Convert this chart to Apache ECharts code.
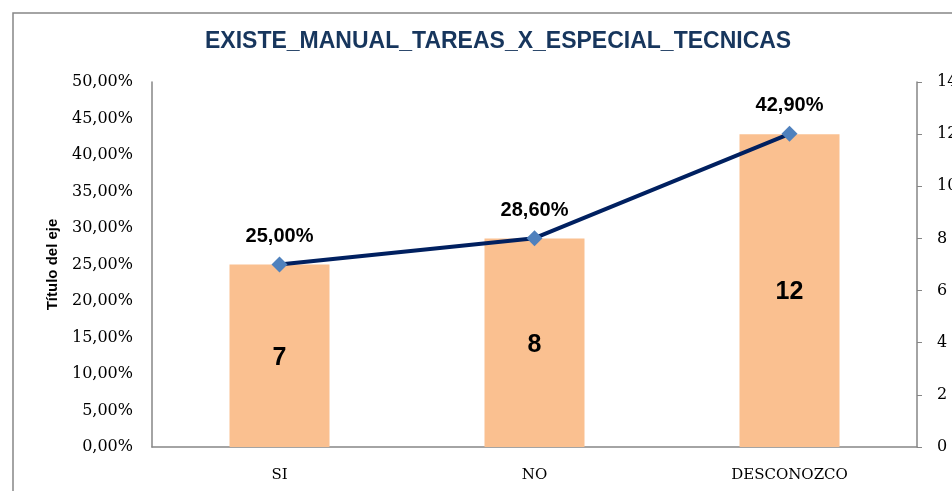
<!DOCTYPE html>
<html>
<head>
<meta charset="utf-8">
<script src="https://cdn.jsdelivr.net/npm/echarts@6/dist/echarts.min.js"></script>
<style>
  html, body { margin: 0; padding: 0; background: #fff; }
  #chart { width: 952px; height: 491px; }
</style>
</head>
<body>
<div id="chart"></div>
<script>
const categories = ['SI', 'NO', 'DESCONOZCO'];
const counts = [7, 8, 12];
const percents = [0.25, 0.286, 0.429];
const leftTicks = { min: 0, max: 0.5, interval: 0.05 };
const rightTicks = { min: 0, max: 14, interval: 2 };

const fmtPct = v => (v * 100).toFixed(2).replace('.', ',') + '%';
const axisGray = '#868686';

const chart = echarts.init(document.getElementById('chart'));

const option = {
  animation: false,
  title: {
    text: 'EXISTE_MANUAL_TAREAS_X_ESPECIAL_TECNICAS',
    left: 200,
    top: 25,
    textStyle: {
      fontFamily: 'Liberation Sans',
      fontWeight: 'bold',
      fontSize: 23,
      color: '#17365D'
    }
  },
  graphic: [{
    type: 'rect',
    shape: { x: 13, y: 13, width: 1000, height: 1000 },
    style: { fill: 'none', stroke: axisGray, lineWidth: 1.5 },
    z: -1
  }],
  grid: { left: 152, right: 35, top: 82, bottom: 44, outerBoundsMode: 'none' },
  xAxis: {
    type: 'category',
    data: categories,
    axisLine: { lineStyle: { color: axisGray, width: 1.5 } },
    axisTick: { show: false },
    axisLabel: {
      fontFamily: 'DejaVu Serif',
      fontSize: 15,
      color: '#000',
      margin: 21
    }
  },
  yAxis: [
    {
      type: 'value',
      min: leftTicks.min,
      max: leftTicks.max,
      interval: leftTicks.interval,
      name: 'Título del eje',
      nameLocation: 'middle',
      nameGap: 92,
      nameTextStyle: {
        fontFamily: 'Liberation Sans',
        fontWeight: 'bold',
        fontSize: 15,
        color: '#000'
      },
      axisLine: { show: true, lineStyle: { color: axisGray, width: 1.5 } },
      axisTick: { show: false },
      splitLine: { show: false },
      axisLabel: {
        formatter: fmtPct,
        fontFamily: 'DejaVu Serif',
        fontSize: 16,
        color: '#000',
        margin: 19
      }
    },
    {
      type: 'value',
      min: rightTicks.min,
      max: rightTicks.max,
      interval: rightTicks.interval,
      position: 'right',
      axisLine: { show: true, lineStyle: { color: axisGray, width: 1.5 } },
      axisTick: { show: true, length: 5, lineStyle: { color: axisGray } },
      splitLine: { show: false },
      axisLabel: {
        fontFamily: 'DejaVu Serif',
        fontSize: 16,
        color: '#000',
        margin: 20
      }
    }
  ],
  series: [
    {
      type: 'bar',
      yAxisIndex: 1,
      data: counts,
      barWidth: 100,
      itemStyle: { color: '#FAC090' },
      label: {
        show: true,
        position: 'inside',
        offset: [0, 2],
        fontFamily: 'Liberation Sans',
        fontWeight: 'bold',
        fontSize: 25,
        color: '#000'
      }
    },
    {
      type: 'line',
      yAxisIndex: 0,
      data: percents,
      symbol: 'diamond',
      symbolSize: 16,
      lineStyle: { color: '#002060', width: 4 },
      itemStyle: { color: '#4F81BD' },
      label: {
        show: true,
        position: 'top',
        distance: 10,
        formatter: p => fmtPct(p.value),
        fontFamily: 'Liberation Sans',
        fontWeight: 'bold',
        fontSize: 20,
        color: '#000'
      }
    }
  ]
};

chart.setOption(option);
</script>
</body>
</html>
